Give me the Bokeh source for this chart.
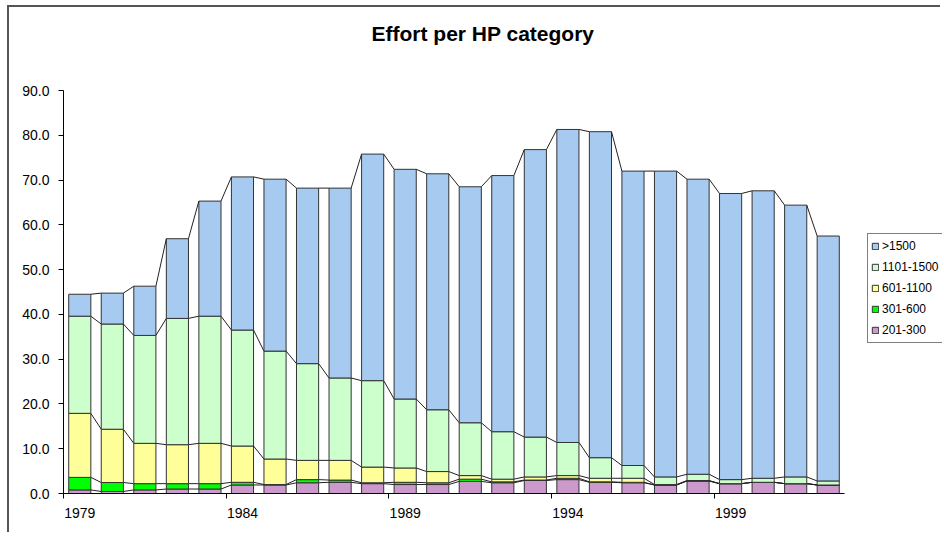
import numpy as np
from bokeh.plotting import figure
from bokeh.models import Range1d, FixedTicker, NumeralTickFormatter, Legend, LegendItem, Label
from bokeh.embed import file_html
from bokeh.resources import INLINE

years = list(range(1979, 2003))
year_ticks = [1979, 1984, 1989, 1994, 1999]
y_ticks = [0, 10, 20, 30, 40, 50, 60, 70, 80, 90]
title_text = "Effort per HP category"

hp_201_300 = [0.8, 0.45, 0.8, 1.0, 1.0, 1.9, 1.9, 2.4, 2.5, 2.2, 2.0, 2.0,
              2.7, 2.4, 2.9, 3.1, 2.5, 2.4, 1.9, 2.8, 2.2, 2.5, 2.2, 1.9]
hp_301_600 = [2.8, 2.0, 1.4, 1.2, 1.2, 0.6, 0.1, 0.7, 0.5, 0.2, 0.5, 0.4,
              0.5, 0.2, 0.1, 0.3, 0.1, 0.1, 0.0, 0.0, 0.0, 0.0, 0.0, 0.0]
hp_601_1100 = [14.3, 11.9, 9.0, 8.7, 9.0, 8.1, 5.7, 4.3, 4.4, 3.5, 3.2, 2.5,
               0.8, 0.6, 0.7, 0.6, 0.8, 0.9, 0.1, 0.1, 0.0, 0.0, 0.0, 0.0]
hp_1101_1500 = [21.7, 23.5, 24.1, 28.2, 28.4, 25.9, 24.1, 21.6, 18.4, 19.3, 15.4, 13.8,
                11.8, 10.6, 8.9, 7.4, 4.6, 2.85, 1.7, 1.4, 0.9, 0.9, 1.5, 0.9]
hp_over_1500 = [4.9, 6.9, 11.0, 17.8, 25.7, 34.2, 38.4, 39.2, 42.4, 50.6, 51.3, 52.7,
                52.7, 57.2, 64.2, 69.9, 72.8, 65.75, 68.3, 65.9, 63.9, 64.2, 60.7, 54.7]

series = [hp_201_300, hp_301_600, hp_601_1100, hp_1101_1500, hp_over_1500]
names = ["201-300", "301-600", "601-1100", "1101-1500", ">1500"]
colors = ["#CC99CC", "#00FF00", "#FFFF99", "#CCFFCC", "#A6CAF0"]

# layout (pixels)
W, H = 933, 527
BL, BB = 54, 41          # left / bottom borders
PLOT_W, PLOT_H = 781, 403  # pixel extent of the category axis and of 0..90
frame_w, frame_h = W - BL, H - BB

x0 = years[0] - 0.5
x1 = years[-1] + 0.5
x_end = x0 + (x1 - x0) * frame_w / PLOT_W
y_end = y_ticks[-1] * frame_h / PLOT_H

p = figure(width=W, height=H, output_backend="svg", toolbar_location=None,
           title_location=None,
           x_range=Range1d(x0, x_end), y_range=Range1d(0, y_end),
           min_border_left=BL, min_border_right=0, min_border_top=0, min_border_bottom=BB,
           background_fill_color="white", border_fill_color="white",
           styles={"margin-left": "7px", "margin-top": "5px",
                   "border-top": "2px solid #555555", "border-left": "2px solid #555555"})
p.outline_line_color = None
p.xgrid.visible = False
p.ygrid.visible = False

bw = 0.68
yrs = np.array(years, dtype=float)
bottom = np.zeros(len(years))
renderers = []
for vals, name, col in zip(series, names, colors):
    top = bottom + np.array(vals)
    r = p.vbar(x=yrs, bottom=bottom, top=top, width=bw, fill_color=col,
               line_color="#333333", line_width=1)
    renderers.append(r)
    # series lines joining stack tops between adjacent bars
    p.segment(x0=yrs[:-1] + bw / 2, y0=top[:-1], x1=yrs[1:] - bw / 2, y1=top[1:],
              line_color="#222222", line_width=1)
    bottom = top

p.add_layout(Label(x=308, y=460, x_units="screen", y_units="screen", text=title_text,
                   text_align="left", text_baseline="middle",
                   text_font="Liberation Sans", text_font_size="21px",
                   text_font_style="bold", text_color="black"))

p.xaxis.bounds = (x0, x1)
p.xaxis.ticker = FixedTicker(ticks=year_ticks,
                             minor_ticks=[t - 0.5 for t in year_ticks])
p.xaxis.major_label_overrides = {t: str(t) for t in year_ticks}
p.xaxis.major_tick_line_color = None
p.xaxis.major_tick_out = 0
p.xaxis.major_tick_in = 0
p.xaxis.minor_tick_line_color = "black"
p.xaxis.minor_tick_out = 5
p.xaxis.minor_tick_in = 0
p.xaxis.major_label_standoff = 9

p.yaxis.bounds = (y_ticks[0], y_ticks[-1])
p.yaxis.ticker = FixedTicker(ticks=y_ticks, minor_ticks=[])
p.yaxis.formatter = NumeralTickFormatter(format="0.0")
p.yaxis.major_tick_out = 5
p.yaxis.major_tick_in = 0
p.yaxis.major_label_standoff = 9

for ax in (p.xaxis, p.yaxis):
    ax.axis_line_color = "black"
    ax.major_label_text_font = "Liberation Sans"
    ax.major_label_text_font_size = "14px"
    ax.major_label_text_color = "black"

items = [LegendItem(label=n, renderers=[r]) for n, r in zip(names[::-1], renderers[::-1])]
legend = Legend(items=items, location=(804, 150), orientation="vertical",
                border_line_color="black", border_line_width=1,
                background_fill_color="white", background_fill_alpha=1,
                label_text_font="Liberation Sans", label_text_font_size="12px",
                label_text_color="black",
                glyph_width=8, glyph_height=8, label_height=18, spacing=3,
                padding=3, margin=0, label_standoff=3)
p.add_layout(legend)

open("out.html", "w").write(file_html(p, INLINE))
